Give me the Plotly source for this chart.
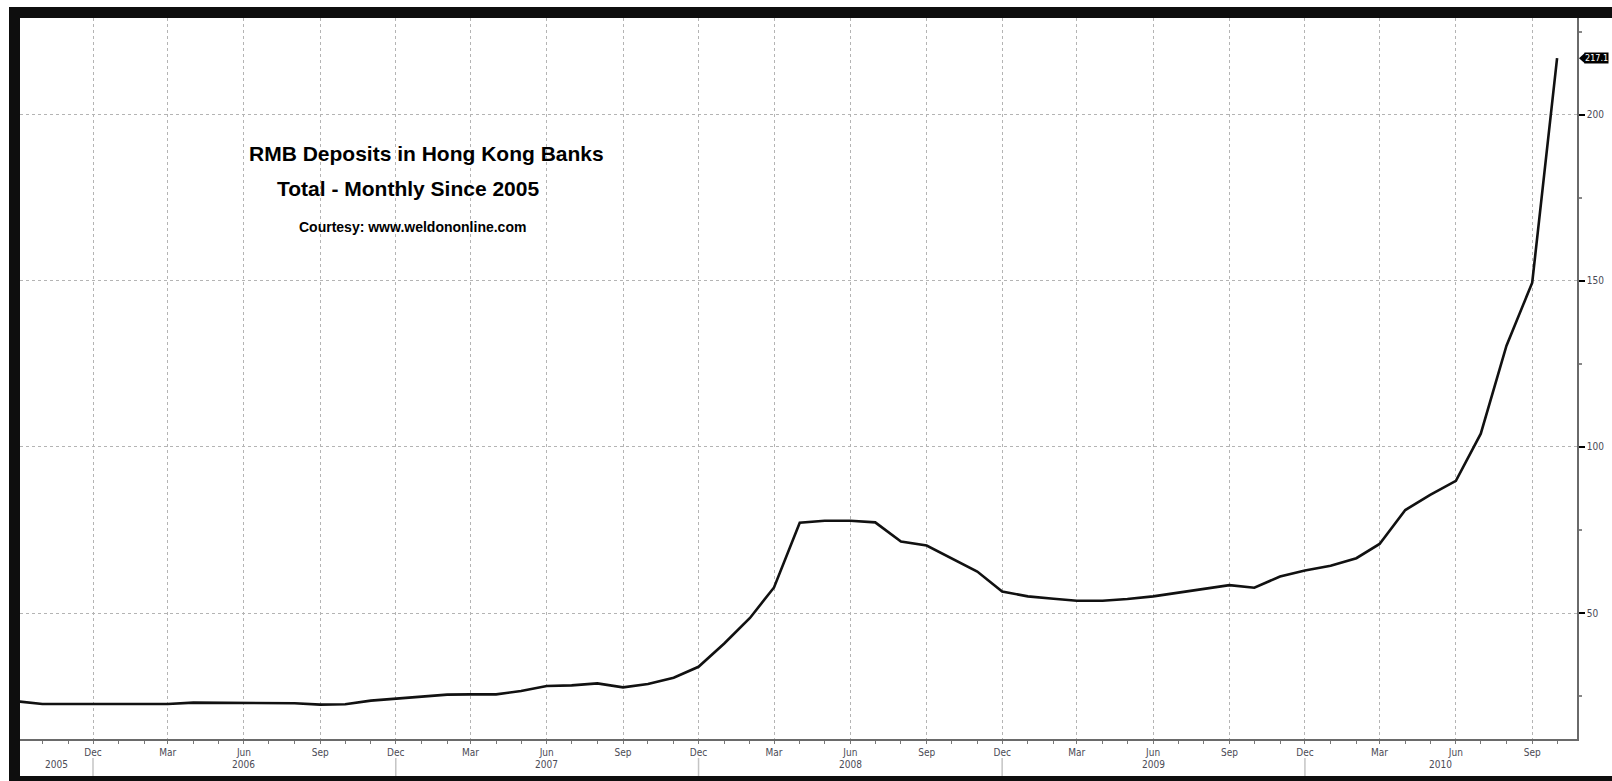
import pandas as pd
import plotly.graph_objects as go

# Month-end RMB deposit totals in Hong Kong banks (RMB bn), plotted at month start
months = [
    "2005-09-01", "2005-10-01", "2005-11-01", "2005-12-01",
    "2006-01-01", "2006-02-01", "2006-03-01", "2006-04-01", "2006-05-01", "2006-06-01",
    "2006-07-01", "2006-08-01", "2006-09-01", "2006-10-01", "2006-11-01", "2006-12-01",
    "2007-01-01", "2007-02-01", "2007-03-01", "2007-04-01", "2007-05-01", "2007-06-01",
    "2007-07-01", "2007-08-01", "2007-09-01", "2007-10-01", "2007-11-01", "2007-12-01",
    "2008-01-01", "2008-02-01", "2008-03-01", "2008-04-01", "2008-05-01", "2008-06-01",
    "2008-07-01", "2008-08-01", "2008-09-01", "2008-10-01", "2008-11-01", "2008-12-01",
    "2009-01-01", "2009-02-01", "2009-03-01", "2009-04-01", "2009-05-01", "2009-06-01",
    "2009-07-01", "2009-08-01", "2009-09-01", "2009-10-01", "2009-11-01", "2009-12-01",
    "2010-01-01", "2010-02-01", "2010-03-01", "2010-04-01", "2010-05-01", "2010-06-01",
    "2010-07-01", "2010-08-01", "2010-09-01", "2010-10-01",
]
deposits = [
    23.4, 22.6, 22.6, 22.6,
    22.6, 22.6, 22.6, 23.0, 23.0, 23.0,
    23.0, 22.8, 22.4, 22.5, 23.6, 24.2,
    24.8, 25.4, 25.5, 25.5, 26.5, 28.0,
    28.2, 28.8, 27.6, 28.6, 30.5, 33.8,
    40.8, 48.5, 57.7, 77.2, 77.8, 77.8,
    77.3, 71.5, 70.3, 66.5, 62.5, 56.5,
    55.0, 54.3, 53.7, 53.7, 54.2, 55.0,
    56.1, 57.1, 58.4, 57.6, 61.0, 62.8,
    64.2, 66.5, 70.8, 81.0, 85.6, 89.8,
    104.0, 130.5, 149.5, 217.1,
]

quarter_ticks = [
    "2005-12-01", "2006-03-01", "2006-06-01", "2006-09-01", "2006-12-01",
    "2007-03-01", "2007-06-01", "2007-09-01", "2007-12-01",
    "2008-03-01", "2008-06-01", "2008-09-01", "2008-12-01",
    "2009-03-01", "2009-06-01", "2009-09-01", "2009-12-01",
    "2010-03-01", "2010-06-01", "2010-09-01",
]
quarter_labels = ["Dec", "Mar", "Jun", "Sep"] * 5
years = [2005, 2006, 2007, 2008, 2009, 2010]
y_ticks = [50, 100, 150, 200]

title_lines = [
    "RMB Deposits in Hong Kong Banks",
    "Total - Monthly Since 2005",
    "Courtesy: www.weldononline.com",
]

# ---- canvas geometry (pixels) ----
W, H = 1612, 781
L, R, T, B = 20, 1577, 18, 739
x_range = ["2005-09-04", "2010-10-25"]
y_range = [12.05, 229.2]


def px_x(p):
    return (p - L) / (R - L)


def px_y(p):
    return (B - p) / (B - T)


AXIS_FONT = "DejaVu Sans Condensed, Liberation Sans Narrow, Arial Narrow, sans-serif"
TITLE_FONT = "Liberation Sans, Arial, sans-serif"
LABEL_COLOR = "#4a4a55"
GRID = "#b4b4b4"
FRAME = "#0e0e0e"

fig = go.Figure()
fig.add_trace(go.Scatter(
    x=months, y=deposits, mode="lines",
    line=dict(color="#111111", width=2.6),
    hoverinfo="x+y", showlegend=False,
))

shapes = []
# thick black border on top, left and bottom
for x0, x1, y0, y1 in [
    (9, W + 20, 7, 18),
    (9, 20, 7, H + 20),
    (9, W + 20, 776, H + 20),
]:
    shapes.append(dict(type="rect", xref="paper", yref="paper",
                       x0=px_x(x0), x1=px_x(x1), y0=px_y(y0), y1=px_y(y1),
                       fillcolor=FRAME, line=dict(width=0), layer="above"))

# year separators below the month labels
for yr in years[:-1]:
    shapes.append(dict(type="line", xref="x", yref="paper",
                       x0=f"{yr}-12-01", x1=f"{yr}-12-01",
                       y0=px_y(758), y1=px_y(776),
                       line=dict(color="#c4c4c4", width=1.5)))

annotations = []
# year labels centred between separators
rs, re_ = pd.Timestamp(x_range[0]), pd.Timestamp(x_range[1])
for yr in years:
    a = max(rs, pd.Timestamp(f"{yr - 1}-12-01"))
    b = min(re_, pd.Timestamp(f"{yr}-12-01"))
    mid = a + (b - a) / 2
    annotations.append(dict(x=mid.strftime("%Y-%m-%d"), y=px_y(764), xref="x", yref="paper",
                            text=str(yr), showarrow=False, yanchor="middle",
                            font=dict(family=AXIS_FONT, size=10, color=LABEL_COLOR)))

# chart title block
for text, cx, cy, size in zip(title_lines, [426, 408, 412], [153, 188, 227], [21, 21, 14]):
    annotations.append(dict(x=px_x(cx), y=px_y(cy), xref="paper", yref="paper",
                            text=f"<b>{text}</b>", showarrow=False,
                            xanchor="center", yanchor="middle",
                            font=dict(family=TITLE_FONT, size=size, color="#000000")))

# last-value tag on the right axis
last = deposits[-1]
annotations.append(dict(x=px_x(1584), y=last, xref="paper", yref="y",
                        text=f"{last:g}", showarrow=False, xanchor="left", yanchor="middle",
                        bgcolor="#000000", borderpad=0,
                        font=dict(family=AXIS_FONT, size=9, color="#ffffff")))
shapes.append(dict(type="path", xref="paper", yref="y",
                   path=f"M {px_x(1579)} {last} L {px_x(1585)} {last + 1.6} "
                        f"L {px_x(1585)} {last - 1.6} Z",
                   fillcolor="#000000", line=dict(width=0)))

fig.update_layout(
    width=W, height=H,
    margin=dict(l=L, r=W - R, t=T, b=H - B, autoexpand=False),
    paper_bgcolor="#ffffff", plot_bgcolor="#ffffff",
    shapes=shapes, annotations=annotations,
    xaxis=dict(
        type="date", range=x_range,
        tickmode="array", tickvals=quarter_ticks, ticktext=quarter_labels,
        ticks="outside", ticklen=3, tickcolor="#777777",
        tickfont=dict(family=AXIS_FONT, size=10, color=LABEL_COLOR),
        showgrid=True, gridcolor=GRID, griddash="dot", gridwidth=1,
        showline=True, linecolor="#6a6a6a", linewidth=1.5,
        zeroline=False,
        minor=dict(dtick="M1", tick0="2005-09-01", ticks="outside",
                   ticklen=3, tickcolor="#777777", showgrid=False),
    ),
    yaxis=dict(
        side="right", range=y_range,
        tickmode="array", tickvals=y_ticks,
        ticks="outside", ticklen=6, tickwidth=2, tickcolor="#000000",
        tickfont=dict(family=AXIS_FONT, size=10, color=LABEL_COLOR),
        showgrid=True, gridcolor=GRID, griddash="dot", gridwidth=1,
        showline=True, linecolor="#6a6a6a", linewidth=1.5,
        zeroline=False,
        minor=dict(dtick=25, tick0=0, ticks="outside", ticklen=3,
                   tickcolor="#888888", showgrid=False),
    ),
)

fig.write_html("out.html")
